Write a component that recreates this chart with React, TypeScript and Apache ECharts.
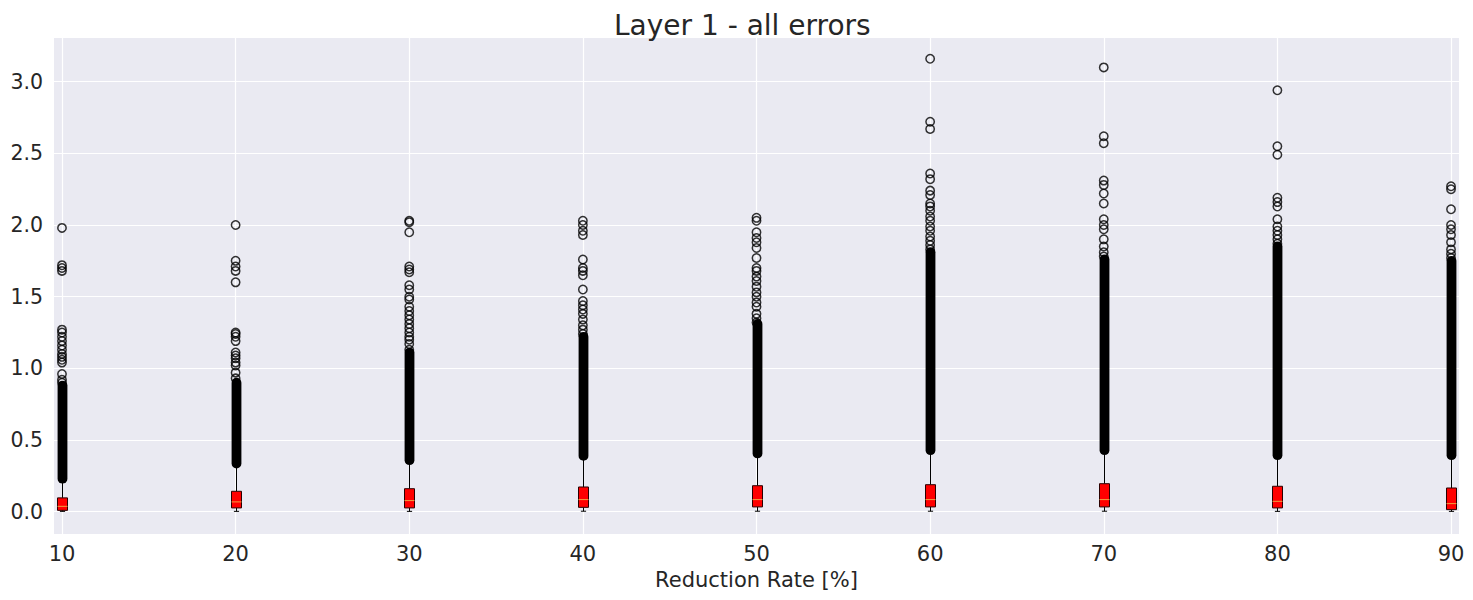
import React, { useEffect, useRef } from "react";
import * as echarts from "echarts";

// ---- data ----
const rates = [10, 20, 30, 40, 50, 60, 70, 80, 90];
const xTicks = [10, 20, 30, 40, 50, 60, 70, 80, 90];
const yTicks = [0, 0.5, 1.0, 1.5, 2.0, 2.5, 3.0];

const whiskerLow = [0.002, 0.002, 0.002, 0.003, 0.003, 0.003, 0.003, 0.002, 0.002];
const q1 = [0.009, 0.026, 0.026, 0.03, 0.033, 0.033, 0.033, 0.026, 0.014];
const median = [0.037, 0.068, 0.077, 0.084, 0.084, 0.084, 0.084, 0.072, 0.056];
const q3 = [0.096, 0.142, 0.16, 0.172, 0.181, 0.188, 0.195, 0.177, 0.165];
const whiskerHigh = [0.222, 0.328, 0.35, 0.38, 0.397, 0.42, 0.42, 0.386, 0.386];

// fliers so dense they merge into a solid column (circle centres, low..high)
const denseLow = [0.23, 0.336, 0.359, 0.389, 0.406, 0.429, 0.429, 0.394, 0.394];
const denseHigh = [0.88, 0.9, 1.11, 1.22, 1.31, 1.81, 1.76, 1.85, 1.75];

// individually visible fliers
const outliers10 = [1.98, 1.72, 1.7, 1.68, 1.27, 1.25, 1.22, 1.19, 1.16, 1.13, 1.1, 1.08, 1.06, 1.04, 0.96, 0.92, 0.9];
const outliers20 = [2.0, 1.75, 1.71, 1.68, 1.6, 1.25, 1.24, 1.22, 1.19, 1.11, 1.09, 1.07, 1.04, 1.02, 0.97, 0.93];
const outliers30 = [2.03, 2.02, 1.95, 1.71, 1.69, 1.67, 1.58, 1.55, 1.5, 1.48, 1.43, 1.4, 1.37, 1.34, 1.31, 1.28, 1.25, 1.22, 1.2, 1.17, 1.13];
const outliers40 = [2.03, 2.0, 1.96, 1.93, 1.76, 1.7, 1.68, 1.65, 1.55, 1.47, 1.44, 1.41, 1.38, 1.34, 1.3, 1.27, 1.24];
const outliers50 = [2.05, 2.03, 1.95, 1.91, 1.88, 1.84, 1.77, 1.7, 1.68, 1.64, 1.61, 1.57, 1.53, 1.5, 1.46, 1.43, 1.38, 1.35, 1.32];
const outliers60 = [3.16, 2.72, 2.67, 2.36, 2.32, 2.24, 2.21, 2.15, 2.13, 2.1, 2.06, 2.03, 1.99, 1.96, 1.92, 1.89, 1.86, 1.83];
const outliers70 = [3.1, 2.62, 2.57, 2.31, 2.28, 2.22, 2.15, 2.04, 2.0, 1.97, 1.9, 1.85, 1.81, 1.78];
const outliers80 = [2.94, 2.55, 2.49, 2.19, 2.16, 2.13, 2.04, 1.99, 1.96, 1.93, 1.9, 1.87];
const outliers90 = [2.27, 2.25, 2.11, 2.0, 1.97, 1.93, 1.88, 1.83, 1.8, 1.77];

const outlierLists = [outliers10, outliers20, outliers30, outliers40, outliers50, outliers60, outliers70, outliers80, outliers90];

const TEXT = "#262626";
const FONT = "DejaVu Sans";

export default function App() {
  const ref = useRef<HTMLDivElement>(null);

  useEffect(() => {
    if (!ref.current) return;
    const chart = echarts.init(ref.current, null, { renderer: "svg" });

    const boxData = rates.map((r, i) => [r, whiskerLow[i], q1[i], median[i], q3[i], whiskerHigh[i]]);
    const denseData = rates.map((r, i) => [r, denseLow[i], denseHigh[i]]);
    const flierData: number[][] = [];
    rates.forEach((r, i) => outlierLists[i].forEach((v) => flierData.push([r, v])));

    chart.setOption({
      animation: false,
      backgroundColor: "#ffffff",
      title: {
        text: "Layer 1 - all errors",
        left: 609,
        top: 6,
        textStyle: { fontFamily: FONT, fontSize: 28, fontWeight: "normal", color: TEXT },
      },
      grid: {
        left: 54,
        right: 14,
        top: 38,
        bottom: 66,
        show: true,
        backgroundColor: "#eaeaf2",
        borderWidth: 0,
      },
      xAxis: {
        type: "value",
        min: 9.54,
        max: 90.46,
        name: "Reduction Rate [%]",
        nameLocation: "middle",
        nameGap: 35,
        nameTextStyle: { fontFamily: FONT, fontSize: 21, color: TEXT },
        axisLine: { show: false },
        axisTick: { show: false, customValues: xTicks },
        axisLabel: {
          customValues: xTicks,
          fontFamily: FONT,
          fontSize: 21,
          color: TEXT,
          margin: 9,
        },
        splitLine: { show: true, lineStyle: { color: "#ffffff", width: 1.2 } },
      },
      yAxis: {
        type: "value",
        min: -0.156,
        max: 3.305,
        axisLine: { show: false },
        axisTick: { show: false, customValues: yTicks },
        axisLabel: {
          customValues: yTicks,
          formatter: (v: number) => v.toFixed(1),
          fontFamily: FONT,
          fontSize: 20.5,
          color: TEXT,
          margin: 11,
        },
        splitLine: { show: true, lineStyle: { color: "#ffffff", width: 1.2 } },
      },
      series: [
        {
          type: "custom",
          name: "boxes",
          data: boxData,
          encode: { x: 0, y: [1, 2, 3, 4, 5] },
          renderItem: (params: any, api: any) => {
            const x = api.value(0);
            const pLow = api.coord([x, api.value(1)]);
            const pQ1 = api.coord([x, api.value(2)]);
            const pMed = api.coord([x, api.value(3)]);
            const pQ3 = api.coord([x, api.value(4)]);
            const pHigh = api.coord([x, api.value(5)]);
            const cx = Math.round(pQ1[0]) + 0.5;
            const hw = 5;
            const cap = 2.6;
            const lineStyle = { stroke: "#000000", lineWidth: 1 };
            return {
              type: "group",
              children: [
                { type: "line", shape: { x1: cx, y1: pQ1[1], x2: cx, y2: pLow[1] }, style: lineStyle },
                { type: "line", shape: { x1: cx, y1: pQ3[1], x2: cx, y2: pHigh[1] }, style: lineStyle },
                { type: "line", shape: { x1: cx - cap, y1: pLow[1], x2: cx + cap, y2: pLow[1] }, style: lineStyle },
                { type: "line", shape: { x1: cx - cap, y1: pHigh[1], x2: cx + cap, y2: pHigh[1] }, style: lineStyle },
                {
                  type: "rect",
                  shape: { x: cx - hw, y: pQ3[1], width: hw * 2, height: pQ1[1] - pQ3[1] },
                  style: { fill: "#ff0000", stroke: "#2a0000", lineWidth: 1 },
                },
                {
                  type: "line",
                  shape: { x1: cx - hw, y1: pMed[1], x2: cx + hw, y2: pMed[1] },
                  style: { stroke: "#f0a040", lineWidth: 1 },
                },
              ],
            };
          },
          z: 2,
        },
        {
          type: "custom",
          name: "dense fliers",
          data: denseData,
          encode: { x: 0, y: [1, 2] },
          renderItem: (params: any, api: any) => {
            const x = api.value(0);
            const a = api.coord([x, api.value(1)]);
            const b = api.coord([x, api.value(2)]);
            const cx = Math.round(a[0]) + 0.5;
            return {
              type: "line",
              shape: { x1: cx, y1: a[1], x2: cx, y2: b[1] },
              style: { stroke: "#000000", lineWidth: 9.8, lineCap: "round" },
            };
          },
          z: 3,
        },
        {
          type: "scatter",
          name: "fliers",
          data: flierData,
          symbol: "circle",
          symbolSize: 8.4,
          itemStyle: { color: "rgba(0,0,0,0)", borderColor: "#000000", borderWidth: 1.5 },
          z: 4,
        },
      ],
    });

    return () => chart.dispose();
  }, []);

  return (
    <div
      ref={ref}
      style={{ position: "fixed", left: 0, top: 0, width: 1473, height: 600 }}
    />
  );
}
